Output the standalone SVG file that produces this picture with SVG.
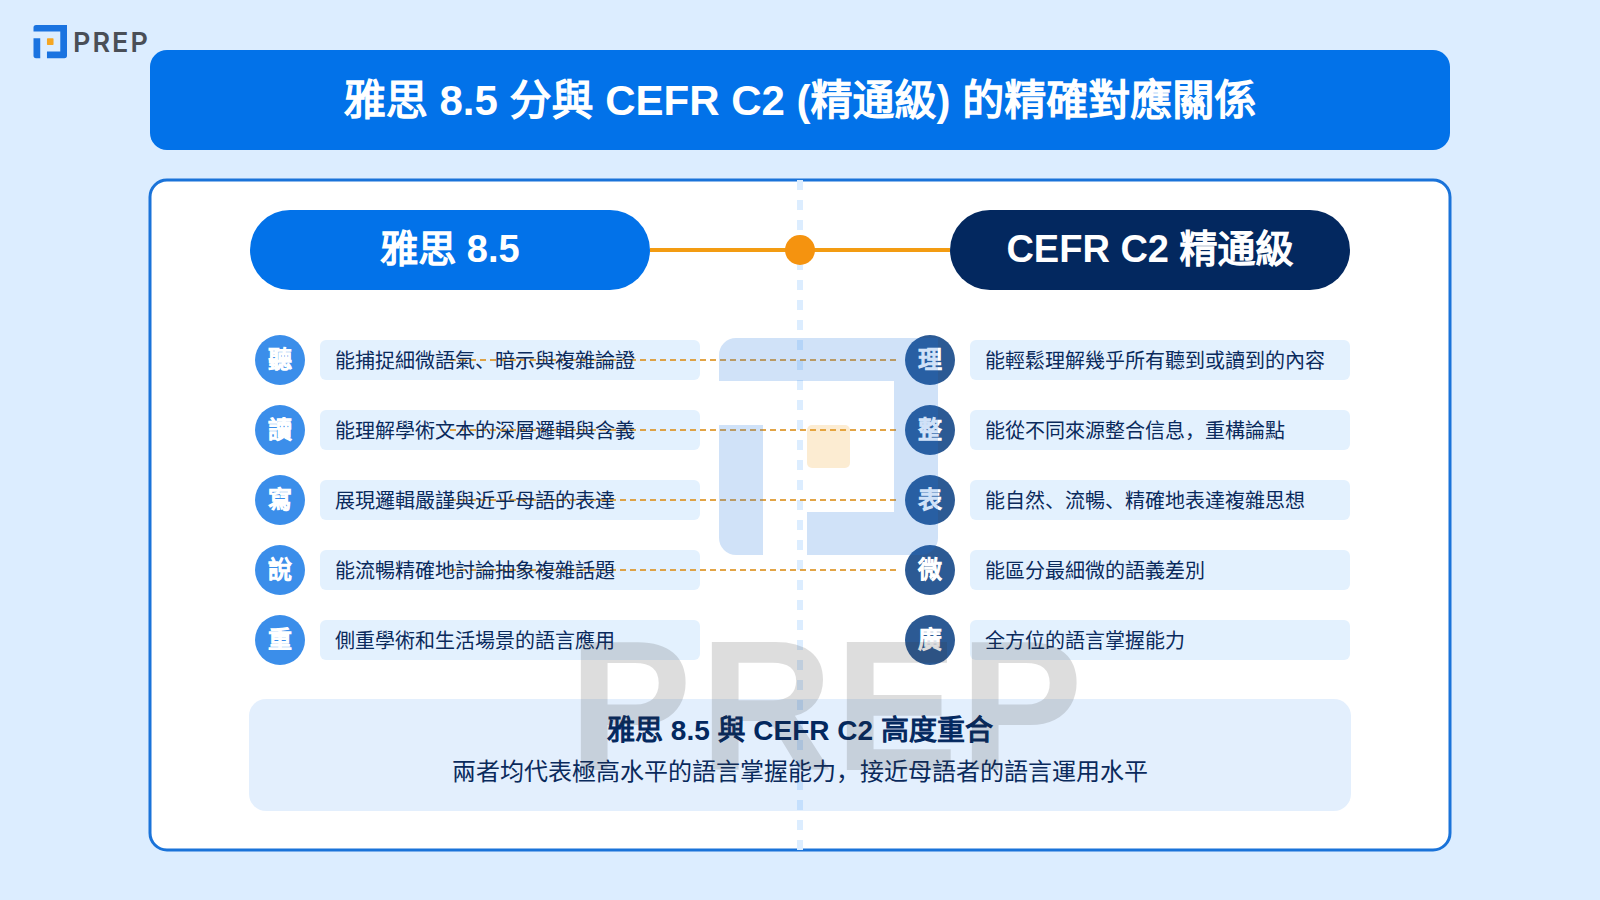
<svg xmlns="http://www.w3.org/2000/svg" width="1600" height="900" viewBox="0 0 1600 900">
<defs>
<style>
text{font-family:"Liberation Sans","Noto Sans CJK SC",sans-serif;text-anchor:middle}
.chip{fill:#e3f1fe}
.t{font-size:20px;fill:#0a2a5c;text-anchor:start}
.cl{fill:#3b8eea}
.cr{fill:#2c5a94}
.ct{font-size:24px;font-weight:400;fill:#fff;stroke:#fff;stroke-width:1.3px}
.fbw{font-weight:400;stroke:#fff;stroke-width:1.5px}
.fbd{font-weight:400;stroke:#03285f;stroke-width:1.1px}
.dash{stroke:#dd9526;stroke-width:2;stroke-dasharray:6 4;opacity:.85}
</style>
<g id="logoShape">
<path d="M0 17a17 17 0 0 1 17-17H219V200a17 17 0 0 1-17 17H88V174H175V43H0Z" fill="#1a73e0"/>
<path d="M0 87H44V217H17A17 17 0 0 1 0 200Z" fill="#1a73e0"/>
<rect x="88" y="87" width="43" height="43" rx="5" fill="#f5a623"/>
</g>
</defs>
<rect width="1600" height="900" fill="#dcedff"/>
<g id="logo">
<use href="#logoShape" transform="translate(33.500 25) scale(.153)"/>
<text x="73" y="52" style="font-family:Inter,sans-serif;text-anchor:start;font-size:27px;font-weight:600;letter-spacing:2px;fill:#4a4f57">PREP</text>
</g>
<g id="title">
<rect x="150" y="50" width="1300" height="100" rx="17" fill="#0272e9"/>
<text x="800" y="115" style="font-size:42px;font-weight:700;fill:#fff"><tspan class="fbw">雅思</tspan> 8.5 <tspan class="fbw">分與</tspan> CEFR C2 (<tspan class="fbw">精通級</tspan>) <tspan class="fbw">的精確對應關係</tspan></text>
</g>
<rect id="card" x="150" y="180" width="1300" height="670" rx="17" fill="#fff" stroke="#1a73d9" stroke-width="3"/>
<line id="divider" x1="800" y1="180" x2="800" y2="850" stroke="#dcedff" stroke-width="6" stroke-dasharray="10 10"/>
<g id="chips">
<rect class="chip" x="320" y="340" width="380" height="40" rx="6"/>
<rect class="chip" x="320" y="410" width="380" height="40" rx="6"/>
<rect class="chip" x="320" y="480" width="380" height="40" rx="6"/>
<rect class="chip" x="320" y="550" width="380" height="40" rx="6"/>
<rect class="chip" x="320" y="620" width="380" height="40" rx="6"/>
<rect class="chip" x="970" y="340" width="380" height="40" rx="6"/>
<rect class="chip" x="970" y="410" width="380" height="40" rx="6"/>
<rect class="chip" x="970" y="480" width="380" height="40" rx="6"/>
<rect class="chip" x="970" y="550" width="380" height="40" rx="6"/>
<rect class="chip" x="970" y="620" width="380" height="40" rx="6"/>
</g>
<g id="connectors">
<line x1="650" y1="250" x2="950" y2="250" stroke="#f39c12" stroke-width="4"/>
<line class="dash" x1="450" y1="360" x2="900" y2="360"/>
<line class="dash" x1="450" y1="430" x2="900" y2="430"/>
<line class="dash" x1="450" y1="500" x2="900" y2="500"/>
<line class="dash" x1="450" y1="570" x2="900" y2="570"/>
</g>
<circle id="hub" cx="800" cy="250" r="15" fill="#f5930f"/>
<g id="ielts"><rect x="250" y="210" width="400" height="80" rx="40" fill="#0272e9"/><text x="450" y="262" style="font-size:38px;font-weight:700;fill:#fff"><tspan class="fbw">雅思</tspan> 8.5</text></g>
<g id="cefr"><rect x="950" y="210" width="400" height="80" rx="40" fill="#03285f"/><text x="1150" y="262" style="font-size:38px;font-weight:700;fill:#fff">CEFR C2 <tspan class="fbw">精通級</tspan></text></g>
<g id="l1"><circle class="cl" cx="280" cy="360" r="25"/><text class="ct" x="280" y="368">聽</text><text class="t" x="335" y="368">能捕捉細微語氣、暗示與複雜論證</text></g>
<g id="l2"><circle class="cl" cx="280" cy="430" r="25"/><text class="ct" x="280" y="438">讀</text><text class="t" x="335" y="438">能理解學術文本的深層邏輯與含義</text></g>
<g id="l3"><circle class="cl" cx="280" cy="500" r="25"/><text class="ct" x="280" y="508">寫</text><text class="t" x="335" y="508">展現邏輯嚴謹與近乎母語的表達</text></g>
<g id="l4"><circle class="cl" cx="280" cy="570" r="25"/><text class="ct" x="280" y="578">說</text><text class="t" x="335" y="578">能流暢精確地討論抽象複雜話題</text></g>
<g id="l5"><circle class="cl" cx="280" cy="640" r="25"/><text class="ct" x="280" y="648">重</text><text class="t" x="335" y="648">側重學術和生活場景的語言應用</text></g>
<g id="r1"><circle class="cr" cx="930" cy="360" r="25"/><text class="ct" x="930" y="368">理</text><text class="t" x="985" y="368">能輕鬆理解幾乎所有聽到或讀到的內容</text></g>
<g id="r2"><circle class="cr" cx="930" cy="430" r="25"/><text class="ct" x="930" y="438">整</text><text class="t" x="985" y="438">能從不同來源整合信息，重構論點</text></g>
<g id="r3"><circle class="cr" cx="930" cy="500" r="25"/><text class="ct" x="930" y="508">表</text><text class="t" x="985" y="508">能自然、流暢、精確地表達複雜思想</text></g>
<g id="r4"><circle class="cr" cx="930" cy="570" r="25"/><text class="ct" x="930" y="578">微</text><text class="t" x="985" y="578">能區分最細微的語義差別</text></g>
<g id="r5"><circle class="cr" cx="930" cy="640" r="25"/><text class="ct" x="930" y="648">廣</text><text class="t" x="985" y="648">全方位的語言掌握能力</text></g>
<g id="summary">
<rect x="249" y="699" width="1102" height="112" rx="17" fill="#0673eb" fill-opacity=".115"/>
<text x="800" y="740" style="font-size:28px;font-weight:700;fill:#03285f"><tspan class="fbd">雅思</tspan> 8.5 <tspan class="fbd">與</tspan> CEFR C2 <tspan class="fbd">高度重合</tspan></text>
<text x="800" y="780" style="font-size:24px;fill:#0a2a5c">兩者均代表極高水平的語言掌握能力，接近母語者的語言運用水平</text>
</g>
<g id="watermark">
<use href="#logoShape" transform="translate(719 338)" opacity=".2"/>
<text x="568.500 699.500 834.500 959.500" y="770" opacity=".16" style="text-anchor:start;font-size:185px;font-weight:700;fill:#333">PREP</text>
</g>
</svg>
